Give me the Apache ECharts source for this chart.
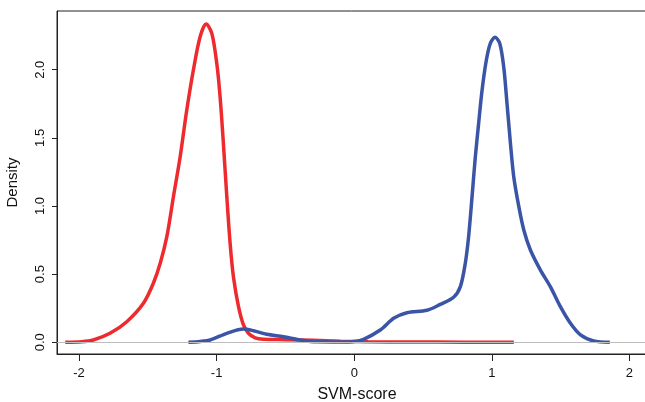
<!DOCTYPE html>
<html>
<head>
<meta charset="utf-8">
<script src="https://cdn.jsdelivr.net/npm/echarts@6/dist/echarts.min.js"></script>
<style>
  html, body { margin: 0; padding: 0; background: #fff; }
  #chart { width: 645px; height: 402px; }
</style>
</head>
<body>
<div id="chart"></div>
<script>
// density curves: [svm score, density]
const redDensity = [
  [-2.10, 0.000], [-1.98, 0.004], [-1.896, 0.017], [-1.775, 0.066], [-1.653, 0.151],
  [-1.532, 0.286], [-1.46, 0.433], [-1.41, 0.58], [-1.362, 0.775], [-1.314, 1.068],
  [-1.265, 1.362], [-1.217, 1.704], [-1.169, 1.998], [-1.12, 2.242], [-1.076, 2.335],
  [-1.035, 2.267], [-0.999, 2.047], [-0.975, 1.802], [-0.951, 1.46], [-0.926, 1.068],
  [-0.902, 0.726], [-0.878, 0.481], [-0.841, 0.261], [-0.805, 0.127], [-0.769, 0.066],
  [-0.72, 0.032], [-0.66, 0.022], [-0.5, 0.019], [-0.3, 0.014], [-0.1, 0.008],
  [0.1, 0.004], [0.4, 0.002], [0.8, 0.001], [1.16, 0.001]
];
const blueDensity = [
  [-1.205, 0.000], [-1.12, 0.006], [-1.047, 0.017], [-0.926, 0.066], [-0.805, 0.098],
  [-0.732, 0.085], [-0.635, 0.059], [-0.514, 0.041], [-0.393, 0.017], [-0.271, 0.003],
  [-0.1, 0.002], [0.0, 0.006], [0.068, 0.022], [0.189, 0.09], [0.286, 0.176],
  [0.383, 0.217], [0.529, 0.235], [0.625, 0.278], [0.722, 0.33], [0.771, 0.408],
  [0.807, 0.58], [0.831, 0.775], [0.856, 1.068], [0.88, 1.362], [0.904, 1.607],
  [0.929, 1.851], [0.96, 2.071], [0.989, 2.194], [1.023, 2.238], [1.057, 2.194],
  [1.086, 2.022], [1.11, 1.753], [1.135, 1.46], [1.159, 1.215], [1.196, 0.995],
  [1.232, 0.824], [1.28, 0.677], [1.353, 0.53], [1.425, 0.408], [1.498, 0.261],
  [1.571, 0.139], [1.644, 0.054], [1.74, 0.01], [1.857, 0.000]
];
const xTicks = [-2, -1, 0, 1, 2];
const yTicks = [0, 0.5, 1, 1.5, 2];

const font = "'Liberation Sans', Arial, sans-serif";
const chart = echarts.init(document.getElementById("chart"), null, { renderer: "canvas" });

chart.setOption({
  animation: false,
  backgroundColor: "#fff",
  grid: {
    left: 57, top: 11, width: 600, height: 343,
    show: true, borderColor: "#222", borderWidth: 1,
    outerBoundsMode: "none", containLabel: false
  },
  xAxis: {
    type: "value", min: -2.16, max: 2.2,
    name: "SVM-score", nameLocation: "middle", nameGap: 33,
    nameTextStyle: { fontFamily: font, fontSize: 16, color: "#111" },
    axisLine: { show: true, onZero: false, lineStyle: { color: "#222", width: 1 } },
    axisTick: { show: true, length: 7, customValues: xTicks, lineStyle: { color: "#222" } },
    axisLabel: { customValues: xTicks, margin: 13, fontFamily: font, fontSize: 13, color: "#111" },
    splitLine: { show: false }
  },
  yAxis: {
    type: "value", min: -0.086, max: 2.431,
    name: "Density", nameLocation: "middle", nameGap: 37, nameRotate: 90,
    nameTextStyle: { fontFamily: font, fontSize: 15, color: "#111" },
    axisLine: { show: true, onZero: false, lineStyle: { color: "#222", width: 1 } },
    axisTick: { show: true, length: 5, customValues: yTicks, lineStyle: { color: "#222" } },
    axisLabel: {
      customValues: yTicks, rotate: 90, margin: 10,
      fontFamily: font, fontSize: 13, color: "#111",
      formatter: (v) => v.toFixed(1)
    },
    splitLine: { show: false }
  },
  series: [
    {
      type: "line", name: "baseline", data: [],
      markLine: {
        silent: true, symbol: "none", animation: false,
        lineStyle: { color: "#bdbdbd", width: 1, type: "solid" },
        label: { show: false },
        data: [{ yAxis: 0 }]
      }
    },
    {
      type: "line", name: "red", data: redDensity, smooth: 0.3,
      showSymbol: false, lineStyle: { color: "#ee2a2e", width: 3.5 }
    },
    {
      type: "line", name: "blue", data: blueDensity, smooth: 0.3,
      showSymbol: false, lineStyle: { color: "#3a54a6", width: 3.5 }
    }
  ]
});
</script>
</body>
</html>
